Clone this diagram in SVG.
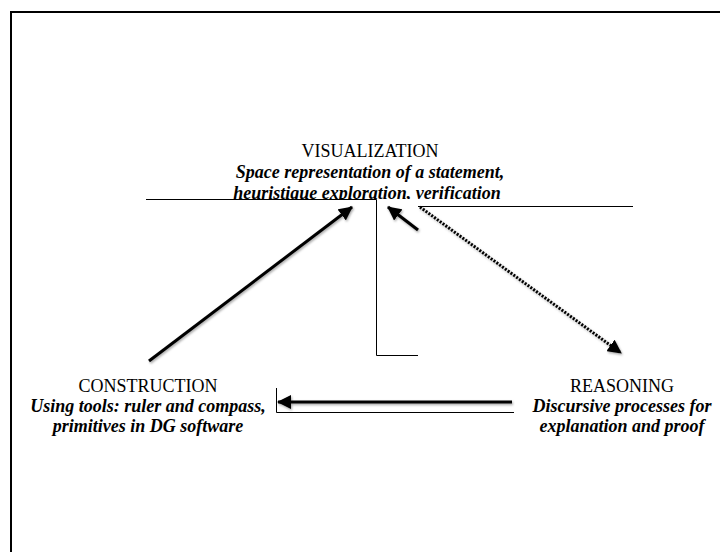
<svg xmlns="http://www.w3.org/2000/svg" width="720" height="552" viewBox="0 0 720 552">
<style>
.t{font-family:"Liberation Serif","Times New Roman",serif;font-size:18px;fill:#000;text-anchor:middle}
.b{font-weight:bold;font-style:italic}
.thin{stroke:#000;stroke-width:1;fill:none}
.arr{stroke:#000;stroke-width:3;fill:none;filter:url(#sh)}
.dot{stroke-dasharray:2 1.5}
</style>
<defs>
<marker id="ah" markerUnits="userSpaceOnUse" markerWidth="16" markerHeight="14" refX="13" refY="7" orient="auto">
<path d="M0,0 L14,7 L0,14 Z" fill="#000"/>
</marker>
<filter id="sh" filterUnits="userSpaceOnUse" x="0" y="0" width="720" height="552">
<feDropShadow dx="1" dy="1.5" stdDeviation="1" flood-color="#000" flood-opacity="0.35"/>
</filter>
<clipPath id="cl"><rect x="0" y="0" width="720" height="199"/></clipPath>
</defs>
<rect width="720" height="552" fill="#fff"/>
<path d="M11,552 V12 H720" stroke="#000" stroke-width="2" fill="none"/>

<g id="visualization">
<text class="t" x="370" y="157">VISUALIZATION</text>
<text class="t b" x="370" y="178">Space representation of a statement,</text>
<text class="t b" x="367" y="199" clip-path="url(#cl)">heuristique exploration, verification</text>
<path class="thin" d="M146,199.5 H376.5 V355.5 H418"/>
<path class="thin" d="M418,206.5 H633"/>
</g>

<g id="construction">
<text class="t" x="148" y="392">CONSTRUCTION</text>
<text class="t b" x="148" y="412">Using tools: ruler and compass,</text>
<text class="t b" x="148" y="432">primitives in DG software</text>
<path class="thin" d="M276.5,388 V412.5 H514"/>
</g>

<g id="reasoning">
<text class="t" x="622" y="392">REASONING</text>
<text class="t b" x="622" y="412">Discursive processes for</text>
<text class="t b" x="622" y="432">explanation and proof</text>
</g>

<g id="connectors">
<line class="arr" x1="149" y1="361" x2="352" y2="207" marker-end="url(#ah)"/>
<line class="arr" x1="418" y1="230" x2="388" y2="207" marker-end="url(#ah)"/>
<line class="arr dot" x1="420" y1="207" x2="621" y2="353" marker-end="url(#ah)"/>
<line class="arr" x1="512" y1="402" x2="278" y2="402" marker-end="url(#ah)"/>
</g>
</svg>
